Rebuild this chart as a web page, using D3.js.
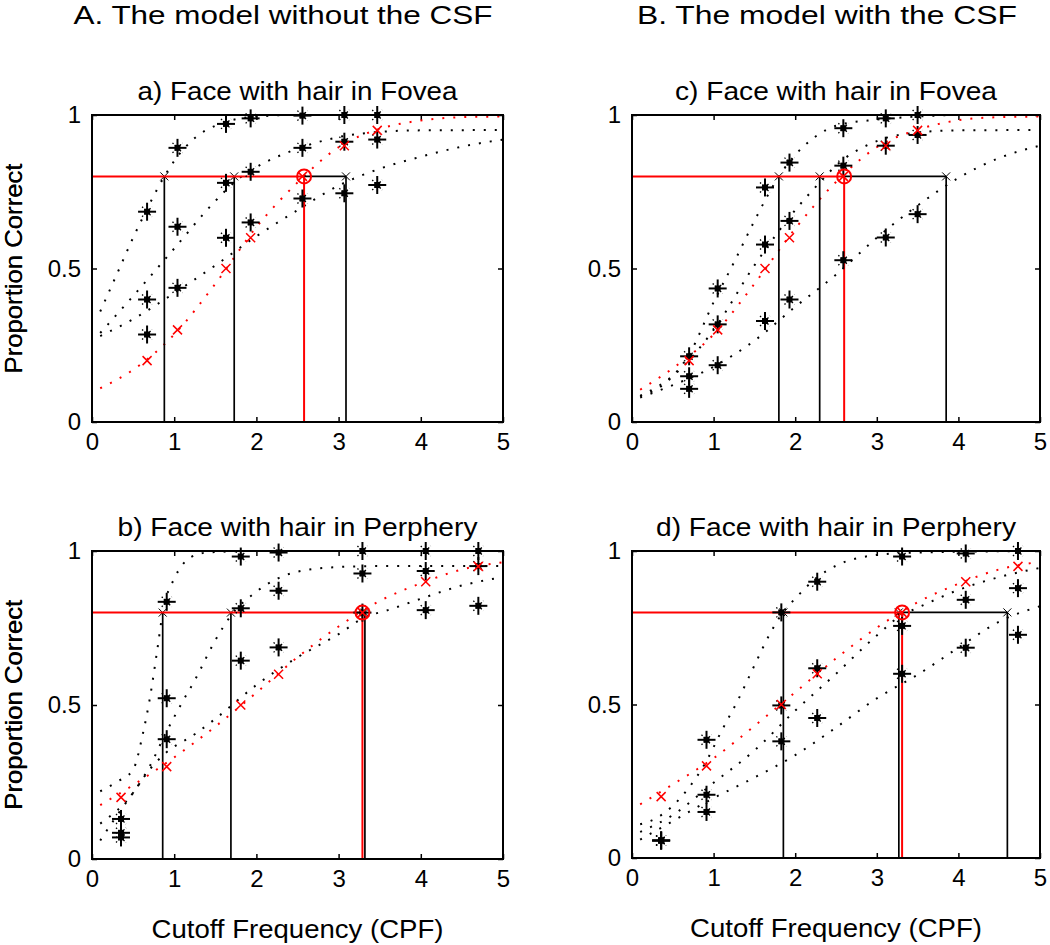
<!DOCTYPE html>
<html><head><meta charset="utf-8">
<script src="https://cdn.jsdelivr.net/npm/d3@7"></script>
<style>
html,body{margin:0;padding:0;background:#fff;}
svg text{font-family:"Liberation Sans",Arial,Helvetica,sans-serif;fill:#000;}
</style></head>
<body>
<svg id="chart" width="1050" height="945"></svg>
<script>
// ---------- data ----------
const xTickValues = [0, 1, 2, 3, 4, 5];
const yTickValues = [0, 0.5, 1];
const criterion = 0.8;

// Panel a) Face with hair in Fovea, model without the CSF
const aX = [0.67, 1.04, 1.63, 1.93, 2.56, 3.07, 3.47];
const aTop = [0.685, 0.893, 0.971, 0.989, 0.998, 1.0, 1.0];
const aMid = [0.399, 0.636, 0.779, 0.815, 0.893, 0.913, 0.92];
const aLow = [0.285, 0.437, 0.60, 0.65, 0.728, 0.745, 0.772];
const aHuman = [0.2, 0.3, 0.5, 0.6, 0.8, 0.9, 0.95];
const aThr = [0.88, 1.73, 3.09];
const aHumanThr = 2.58;
const aFitTop = [[0.1,0.36],[0.3,0.48],[0.5,0.6],[0.7,0.71],[0.88,0.8],[1.0,0.85],[1.25,0.925],[1.5,0.965],[2.0,0.995],[2.5,1.0],[5,1.0]];
const aFitMid = [[0.1,0.29],[0.5,0.41],[1.0,0.565],[1.5,0.72],[1.75,0.785],[2.0,0.83],[2.5,0.89],[3.0,0.928],[3.5,0.945],[4.0,0.95],[5.0,0.951]];
const aFitLow = [[0.1,0.28],[0.5,0.335],[1.0,0.42],[1.5,0.51],[2.0,0.605],[2.5,0.69],[3.0,0.77],[3.5,0.825],[4.0,0.864],[4.5,0.897],[5.0,0.92]];
const aFitHuman = [[0.1,0.11],[0.5,0.17],[1.0,0.285],[1.5,0.45],[2.0,0.635],[2.5,0.78],[3.0,0.895],[3.5,0.955],[4.0,0.982],[4.5,0.993],[5.0,0.995]];

// Panel b) Face with hair in Perphery, model without the CSF
const bX = [0.353, 0.909, 1.81, 2.27, 3.29, 4.06, 4.7];
const bTop = [0.13, 0.835, 0.982, 0.995, 1.0, 1.0, 1.0];
const bMid = [0.085, 0.522, 0.814, 0.871, 0.927, 0.935, 0.951];
const bLow = [0.07, 0.389, 0.644, 0.687, 0.80, 0.808, 0.822];
const bHuman = [0.2, 0.3, 0.5, 0.6, 0.8, 0.9, 0.95];
const bThr = [0.86, 1.69, 3.32];
const bHumanThr = 3.29;
const bFitTop = [[0.1,0.22],[0.3,0.25],[0.5,0.29],[0.62,0.408],[0.7,0.516],[0.8,0.69],[0.86,0.8],[1.0,0.91],[1.1,0.955],[1.2,0.98],[1.4,0.995],[2.0,1.0],[5.0,1.0]];
const bFitMid = [[0.1,0.115],[0.5,0.215],[0.7,0.3],[0.9,0.41],[1.1,0.51],[1.25,0.58],[1.5,0.71],[1.69,0.79],[2.0,0.868],[2.5,0.933],[3.0,0.948],[3.5,0.951],[5.0,0.951]];
const bFitLow = [[0.1,0.06],[0.3,0.14],[0.5,0.215],[0.7,0.29],[0.9,0.345],[1.25,0.405],[1.5,0.455],[2.0,0.565],[2.5,0.655],[3.0,0.73],[3.32,0.785],[3.6,0.808],[4.0,0.845],[4.5,0.888],[5.0,0.915]];
const bFitHuman = [[0.1,0.175],[0.5,0.24],[1.0,0.33],[1.5,0.43],[2.0,0.54],[2.5,0.655],[3.0,0.755],[3.5,0.838],[4.0,0.895],[4.5,0.94],[5.0,0.963]];

// Panel c) Face with hair in Fovea, model with the CSF
const cX = [0.70, 1.05, 1.63, 1.93, 2.59, 3.11, 3.5];
const cTop = [0.214, 0.435, 0.764, 0.845, 0.957, 0.989, 1.0];
const cMid = [0.149, 0.318, 0.578, 0.655, 0.835, 0.9, 0.935];
const cLow = [0.108, 0.185, 0.329, 0.399, 0.527, 0.601, 0.677];
const cHuman = [0.2, 0.3, 0.5, 0.6, 0.8, 0.9, 0.95];
const cThr = [1.80, 2.30, 3.85];
const cHumanThr = 2.6;
const cFitTop = [[0.1,0.085],[0.4,0.125],[0.7,0.22],[1.0,0.39],[1.25,0.52],[1.5,0.655],[1.8,0.8],[2.0,0.87],[2.25,0.93],[2.5,0.965],[3.0,0.985],[3.5,0.995],[4.0,1.0],[5.0,1.0]];
const cFitMid = [[0.1,0.085],[0.5,0.15],[1.0,0.3],[1.5,0.51],[2.0,0.69],[2.3,0.78],[2.5,0.835],[3.0,0.915],[3.5,0.943],[4.0,0.95],[5.0,0.951]];
const cFitLow = [[0.1,0.08],[0.5,0.12],[1.0,0.18],[1.5,0.265],[2.0,0.375],[2.5,0.48],[3.0,0.6],[3.5,0.705],[4.0,0.795],[4.5,0.86],[5.0,0.9]];
const cFitHuman = [[0.1,0.105],[0.5,0.175],[1.0,0.285],[1.5,0.45],[2.0,0.63],[2.5,0.782],[3.0,0.895],[3.5,0.952],[4.0,0.983],[4.5,0.993],[5.0,0.995]];

// Panel d) Face with hair in Perphery, model with the CSF
const dX = [0.357, 0.913, 1.83, 2.27, 3.31, 4.09, 4.73];
const dTop = [0.057, 0.385, 0.8, 0.9, 0.982, 0.992, 1.0];
const dMid = [0.057, 0.206, 0.497, 0.618, 0.756, 0.841, 0.879];
const dLow = [0.057, 0.15, 0.38, 0.456, 0.60, 0.685, 0.727];
const dHuman = [0.2, 0.3, 0.5, 0.6, 0.8, 0.9, 0.95];
const dThr = [1.855, 3.27, 4.6];
const dHumanThr = 3.31;
const dFitTop = [[0.1,0.11],[0.3,0.13],[0.5,0.17],[0.7,0.23],[0.9,0.31],[1.1,0.415],[1.3,0.515],[1.5,0.627],[1.7,0.735],[1.85,0.8],[2.0,0.845],[2.25,0.91],[2.5,0.952],[3.0,0.987],[3.5,0.995],[5.0,1.0]];
const dFitMid = [[0.1,0.085],[0.5,0.14],[1.0,0.245],[1.5,0.35],[2.0,0.48],[2.5,0.6],[3.0,0.725],[3.3,0.79],[3.5,0.815],[4.0,0.873],[4.5,0.915],[5.0,0.945]];
const dFitLow = [[0.1,0.06],[0.5,0.12],[1.0,0.195],[1.5,0.262],[2.0,0.335],[2.5,0.425],[3.0,0.52],[3.5,0.597],[4.0,0.685],[4.5,0.77],[5.0,0.82]];
const dFitHuman = [[0.1,0.175],[0.5,0.24],[1.0,0.325],[1.5,0.43],[2.0,0.54],[2.5,0.65],[3.0,0.75],[3.5,0.833],[4.0,0.893],[4.5,0.94],[5.0,0.965]];

const columnTitles = ["A. The model without the CSF", "B. The model with the CSF"];
const panelTitles = ["a) Face with hair in Fovea", "b) Face with hair in Perphery", "c) Face with hair in Fovea", "d) Face with hair in Perphery"];
const yLabel = "Proportion Correct";
const xLabel = "Cutoff Frequency (CPF)";

// ---------- drawing ----------
const svg = d3.select("#chart");
const RED = "#ff0000";

svg.append("text").attr("x", 283).attr("y", 24).attr("text-anchor", "middle")
  .attr("font-size", 26).attr("textLength", 419).attr("lengthAdjust", "spacingAndGlyphs").text(columnTitles[0]);
svg.append("text").attr("x", 827).attr("y", 24).attr("text-anchor", "middle")
  .attr("font-size", 26).attr("textLength", 380).attr("lengthAdjust", "spacingAndGlyphs").text(columnTitles[1]);

const panels = [
  {title: panelTitles[0], titleW: 320, box: [92, 115, 503, 422], X: aX, series: [aTop, aMid, aLow], human: aHuman, thr: aThr, hThr: aHumanThr, fits: [aFitTop, aFitMid, aFitLow], fitH: aFitHuman, xl: false},
  {title: panelTitles[1], titleW: 360, box: [92, 551, 503, 859], X: bX, series: [bTop, bMid, bLow], human: bHuman, thr: bThr, hThr: bHumanThr, fits: [bFitTop, bFitMid, bFitLow], fitH: bFitHuman, xl: true},
  {title: panelTitles[2], titleW: 322, box: [632, 115, 1040, 422], X: cX, series: [cTop, cMid, cLow], human: cHuman, thr: cThr, hThr: cHumanThr, fits: [cFitTop, cFitMid, cFitLow], fitH: cFitHuman, xl: false},
  {title: panelTitles[3], titleW: 360, box: [632, 551, 1040, 858], X: dX, series: [dTop, dMid, dLow], human: dHuman, thr: dThr, hThr: dHumanThr, fits: [dFitTop, dFitMid, dFitLow], fitH: dFitHuman, xl: true}
];

function star(g, cx, cy) {
  const s = g.append("g").attr("transform", `translate(${cx},${cy})`);
  s.append("line").attr("x1", -9).attr("x2", 9).attr("y1", 0).attr("y2", 0).attr("stroke", "#000").attr("stroke-width", 2);
  s.append("line").attr("x1", 0).attr("x2", 0).attr("y1", -9).attr("y2", 9).attr("stroke", "#000").attr("stroke-width", 2);
  s.append("line").attr("x1", -5).attr("x2", 5).attr("y1", -5).attr("y2", 5).attr("stroke", "#000").attr("stroke-width", 1.3).attr("stroke-dasharray", "1.5,2");
  s.append("line").attr("x1", -5).attr("x2", 5).attr("y1", 5).attr("y2", -5).attr("stroke", "#000").attr("stroke-width", 1.3).attr("stroke-dasharray", "1.5,2");
  s.append("rect").attr("x", -3).attr("y", -3).attr("width", 6).attr("height", 6).attr("fill", "#000");
}
function cross(g, cx, cy, color, r, w) {
  g.append("path").attr("d", `M${cx - r},${cy - r}L${cx + r},${cy + r}M${cx - r},${cy + r}L${cx + r},${cy - r}`)
    .attr("stroke", color).attr("stroke-width", w).attr("fill", "none");
}

panels.forEach(p => {
  const [x0, y0, x1, y1] = p.box;
  const x = d3.scaleLinear().domain([0, 5]).range([x0, x1]);
  const y = d3.scaleLinear().domain([0, 1]).range([y1, y0]);
  const g = svg.append("g");

  // title
  g.append("text").attr("x", (x0 + x1) / 2).attr("y", y0 - 15).attr("text-anchor", "middle")
    .attr("font-size", 25).attr("textLength", p.titleW).attr("lengthAdjust", "spacingAndGlyphs").text(p.title);

  // axes (ticks inward on all sides)
  const bottom = g.append("g").attr("transform", `translate(0,${y1})`)
    .call(d3.axisBottom(x).tickValues(xTickValues).tickSize(-5).tickPadding(9).tickFormat(d3.format("d")));
  const top = g.append("g").attr("transform", `translate(0,${y0})`)
    .call(d3.axisTop(x).tickValues(xTickValues).tickSize(-5).tickFormat(""));
  const left = g.append("g").attr("transform", `translate(${x0},0)`)
    .call(d3.axisLeft(y).tickValues(yTickValues).tickSize(-5).tickPadding(11).tickFormat(d => d === 0.5 ? "0.5" : d3.format("d")(d)));
  const right = g.append("g").attr("transform", `translate(${x1},0)`)
    .call(d3.axisRight(y).tickValues(yTickValues).tickSize(-5).tickFormat(""));
  [bottom, top, left, right].forEach(a => {
    a.select(".domain").remove();
    a.selectAll("line").attr("stroke", "#000").attr("stroke-width", 1.5);
    a.selectAll("text").attr("font-size", 24).attr("font-family", "Liberation Sans, Arial, sans-serif").attr("fill", "#000");
  });
  bottom.selectAll("text").attr("dy", "0.78em");

  g.append("text").attr("transform", `translate(22,${(y0 + y1) / 2}) rotate(-90)`).attr("text-anchor", "middle")
    .attr("font-size", 24).attr("textLength", 210).attr("lengthAdjust", "spacingAndGlyphs").text(yLabel);
  if (p.xl) {
    g.append("text").attr("x", (x0 + x1) / 2).attr("y", y1 + 79).attr("text-anchor", "middle")
      .attr("font-size", 25).attr("textLength", 292).attr("lengthAdjust", "spacingAndGlyphs").text(xLabel);
  }

  // fitted curves (dotted)
  const line = d3.line().x(d => x(d[0])).y(d => y(d[1])).curve(d3.curveMonotoneX);
  p.fits.forEach(f => {
    g.append("path").attr("d", line(f)).attr("fill", "none").attr("stroke", "#000")
      .attr("stroke-width", 2).attr("stroke-dasharray", "2,9");
  });
  g.append("path").attr("d", line(p.fitH)).attr("fill", "none").attr("stroke", RED)
    .attr("stroke-width", 2).attr("stroke-dasharray", "2,9");

  // threshold lines
  const maxThr = d3.max(p.thr);
  p.thr.forEach(t => {
    g.append("line").attr("x1", x(t)).attr("x2", x(t)).attr("y1", y(criterion)).attr("y2", y(0))
      .attr("stroke", "#000").attr("stroke-width", 1.7);
    cross(g, x(t), y(criterion), "#000", 4, 1);
  });
  if (maxThr > p.hThr) {
    g.append("line").attr("x1", x(p.hThr)).attr("x2", x(maxThr)).attr("y1", y(criterion)).attr("y2", y(criterion))
      .attr("stroke", "#000").attr("stroke-width", 1.7);
  }
  g.append("line").attr("x1", x(0)).attr("x2", x(p.hThr)).attr("y1", y(criterion)).attr("y2", y(criterion))
    .attr("stroke", RED).attr("stroke-width", 2);
  g.append("line").attr("x1", x(p.hThr)).attr("x2", x(p.hThr)).attr("y1", y(criterion)).attr("y2", y(0))
    .attr("stroke", RED).attr("stroke-width", 2);

  // model data (asterisks)
  p.series.forEach(s => s.forEach((v, i) => star(g, x(p.X[i]), y(v))));
  // human data (red x)
  p.human.forEach((v, i) => cross(g, x(p.X[i]), y(v), RED, 4.5, 1.5));
  g.append("circle").attr("cx", x(p.hThr)).attr("cy", y(criterion)).attr("r", 7)
    .attr("fill", "none").attr("stroke", RED).attr("stroke-width", 2);

  // box
  g.append("rect").attr("x", x0).attr("y", y0).attr("width", x1 - x0).attr("height", y1 - y0)
    .attr("fill", "none").attr("stroke", "#000").attr("stroke-width", 2);
});
</script>
</body></html>
